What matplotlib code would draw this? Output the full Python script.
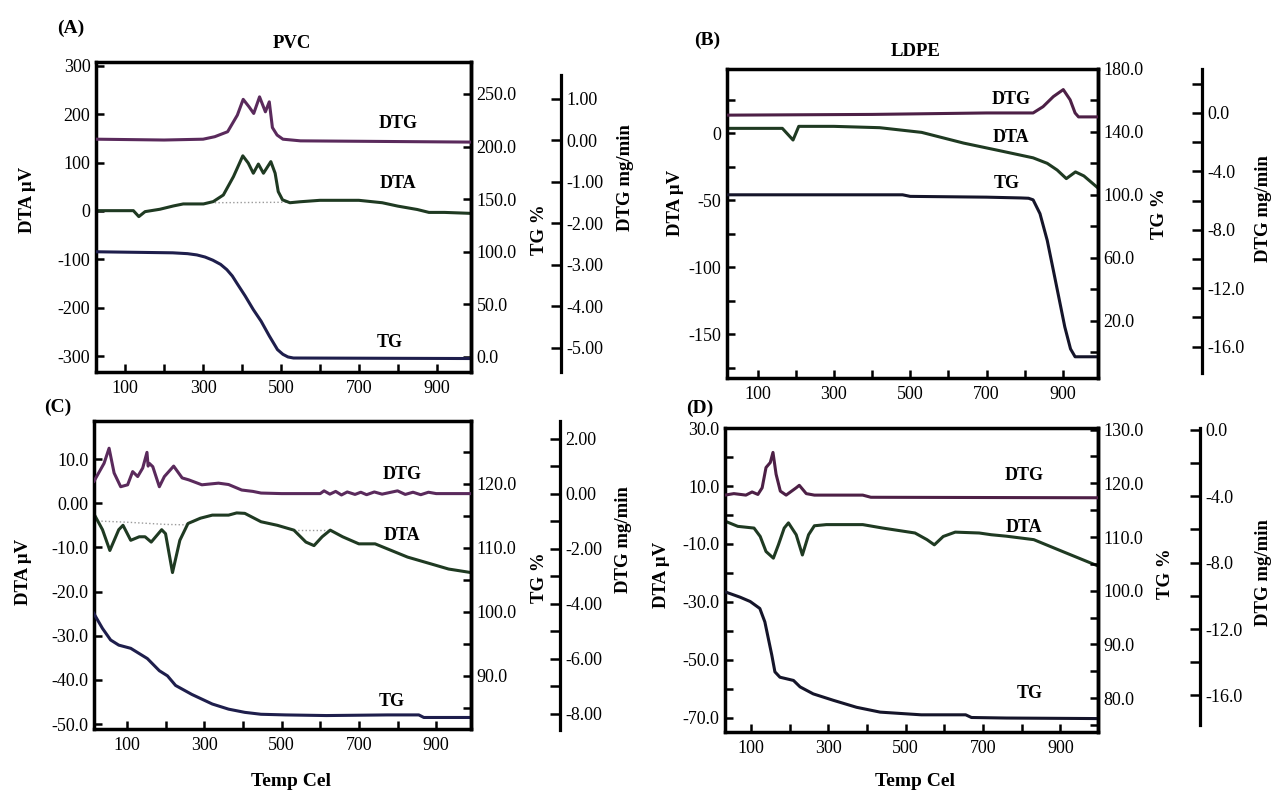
import matplotlib
matplotlib.use("Agg")
import matplotlib.pyplot as plt

plt.rcParams['font.family'] = ['Liberation Serif', 'DejaVu Serif']

W, H = 1274, 792

# ---------------- data ----------------
# Panel A : PVC
A_T_dtg = [25, 200, 300, 330, 363, 388, 403, 418, 430, 445, 460, 470, 478, 490, 505, 550, 988]
A_dtg = [0.02, 0.0, 0.02, 0.08, 0.2, 0.6, 0.98, 0.8, 0.64, 1.04, 0.68, 0.92, 0.3, 0.12, 0.02, -0.02, -0.05]
A_T_dta = [25, 121, 135, 151, 189, 224, 249, 301, 326, 352, 378, 402, 416, 429, 442, 455, 474,
           485, 493, 504, 523, 549, 600, 700, 760, 800, 850, 880, 920, 988]
A_dta = [0.6, 0.6, -11.7, -1.4, 3.5, 10.4, 14.5, 14.5, 19.3, 33, 71, 114, 99, 78, 97, 78, 102,
         78, 40, 23, 17, 19, 22, 22, 17, 10, 3, -3, -3, -5]
A_T_base = [330, 520]
A_base = [17, 18]
A_T_tg = [25, 222, 260, 284, 305, 325, 345, 361, 375, 387, 408, 429, 449, 470, 491, 505, 518, 532, 988]
A_tg = [100, 99, 98.2, 97, 95, 92, 88, 83, 77, 70, 58, 45, 34, 20, 7, 2.5, 0, -1, -1.5]

# Panel B : LDPE
B_T_dtg = [19, 400, 700, 822, 848, 875, 901, 919, 932, 941, 992]
B_dtg = [-0.15, -0.1, 0.0, 0.0, 0.43, 1.12, 1.6, 0.9, 0.0, -0.27, -0.27]
B_T_dta = [19, 165, 193, 208, 300, 420, 530, 640, 740, 822, 859, 885, 909, 933, 955, 992]
B_dta = [3.5, 3.5, -5.2, 5.0, 5.0, 4.0, 0.5, -7.5, -13.5, -18.5, -22.6, -27.6, -34, -29, -32, -41]
B_T_tg = [19, 480, 500, 700, 790, 810, 822, 840, 859, 875, 890, 905, 920, 932, 992]
B_tg = [100, 100, 99, 98.5, 98, 97.8, 96.8, 88, 71, 52, 34, 16, 2, -3, -3]

# Panel C
C_T_dtg = [15, 41, 54, 67, 84, 102, 115, 128, 141, 152, 155, 158, 167, 184, 197, 221, 243, 260,
           294, 337, 363, 380, 397, 426, 447, 500, 600, 610, 625, 640, 655, 670, 690, 705, 720,
           740, 760, 780, 800, 820, 840, 860, 880, 900, 990]
C_dtg = [0.45, 1.1, 1.65, 0.75, 0.25, 0.32, 0.8, 0.62, 0.93, 1.5, 1.0, 1.1, 0.98, 0.25, 0.62,
         1.0, 0.57, 0.5, 0.32, 0.38, 0.33, 0.23, 0.13, 0.08, 0.02, 0.0, 0.0, 0.1, -0.02, 0.08,
         -0.05, 0.06, -0.03, 0.05, -0.04, 0.06, -0.02, 0.04, 0.1, -0.03, 0.05, -0.04, 0.05, 0.0, 0.0]
C_T_dta = [14, 37, 56, 79, 90, 110, 132, 147, 163, 190, 200, 218, 237, 258, 290, 321, 363, 384,
           405, 447, 489, 532, 563, 584, 605, 626, 658, 700, 742, 784, 826, 889, 932, 990]
C_dta = [-2.3, -6, -10.7, -6, -5, -8.4, -7.6, -7.6, -8.8, -6, -6.9, -15.7, -8.4, -4.6, -3.4,
         -2.7, -2.7, -2.2, -2.3, -4.2, -5, -6.1, -8.8, -9.6, -7.6, -6.1, -7.6, -9.2, -9.2,
         -10.7, -12.2, -13.8, -14.9, -15.7]
C_T_base1 = [15, 100, 200, 250, 290]
C_base1 = [-4.0, -4.3, -4.8, -4.9, -3.6]
C_T_base2 = [532, 626]
C_base2 = [-6.1, -6.1]
C_T_tg = [14, 37, 58, 79, 110, 153, 184, 205, 226, 268, 321, 363, 405, 447, 510, 616, 774, 855, 868, 990]
C_tg = [99.8, 97.4, 95.6, 94.8, 94.3, 92.7, 90.8, 90.0, 88.5, 87.1, 85.6, 84.8, 84.3, 84.0,
        83.9, 83.8, 83.9, 83.9, 83.5, 83.5]

# Panel D
D_T_dtg = [33, 56, 87, 103, 118, 129, 139, 150, 157, 165, 176, 191, 217, 225, 243, 264, 389, 410, 997]
D_dtg = [-3.94, -3.85, -3.94, -3.75, -3.9, -3.5, -2.28, -1.98, -1.37, -2.68, -3.7, -3.94, -3.5,
         -3.35, -3.85, -3.94, -3.94, -4.07, -4.1]
D_T_dta = [33, 66, 108, 124, 139, 158, 171, 186, 197, 217, 233, 249, 264, 295, 389, 441, 524,
           555, 574, 597, 628, 690, 721, 760, 831, 900, 997]
D_dta = [-2.1, -3.9, -4.5, -7.4, -12.6, -14.9, -10.3, -4.5, -2.7, -6.8, -13.8, -6.8, -3.7, -3.3,
         -3.3, -4.5, -6.2, -8.5, -10.3, -7.4, -5.9, -6.2, -6.8, -7.3, -8.5, -12.3, -17.6]
D_T_tg = [33, 72, 98, 123, 136, 145, 154, 162, 175, 210, 227, 261, 313, 373, 434, 540, 655, 670, 760, 997]
D_tg = [99.8, 98.8, 98.0, 96.7, 94.2, 91.1, 88.0, 84.9, 83.9, 83.3, 82.1, 80.8, 79.6, 78.3,
        77.4, 76.9, 76.9, 76.4, 76.3, 76.2]

# tick values / labels
X_TICKS = [100, 200, 300, 400, 500, 600, 700, 800, 900]
X_LABELS = ['100', '', '300', '', '500', '', '700', '', '900']

A_DTA_TICKS = [-300, -200, -100, 0, 100, 200, 300]
A_DTA_LABELS = ['-300', '-200', '-100', '0', '100', '200', '300']
A_TG_TICKS = [0, 50, 100, 150, 200, 250]
A_TG_LABELS = ['0.0', '50.0', '100.0', '150.0', '200.0', '250.0']
A_DTG_TICKS = [-5, -4, -3, -2, -1, 0, 1]
A_DTG_LABELS = ['-5.00', '-4.00', '-3.00', '-2.00', '-1.00', '0.00', '1.00']

B_DTA_TICKS = [-175, -150, -125, -100, -75, -50, -25, 0, 25]
B_DTA_LABELS = ['', '-150', '', '-100', '', '-50', '', '0', '']
B_TG_TICKS = [0, 20, 40, 60, 80, 100, 120, 140, 160, 180]
B_TG_LABELS = ['', '20.0', '', '60.0', '', '100.0', '', '140.0', '', '180.0']
B_DTG_TICKS = [-16, -14, -12, -10, -8, -6, -4, -2, 0, 2]
B_DTG_LABELS = ['-16.0', '', '-12.0', '', '-8.0', '', '-4.0', '', '0.0', '']

C_DTA_TICKS = [-50, -40, -30, -20, -10, 0, 10]
C_DTA_LABELS = ['-50.0', '-40.0', '-30.0', '-20.0', '-10.0', '0.00', '10.0']
C_TG_TICKS = [85, 90, 95, 100, 105, 110, 115, 120, 125]
C_TG_LABELS = ['', '90.0', '', '100.0', '', '110.0', '', '120.0', '']
C_DTG_TICKS = [-8, -7, -6, -5, -4, -3, -2, -1, 0, 1, 2]
C_DTG_LABELS = ['-8.00', '', '-6.00', '', '-4.00', '', '-2.00', '', '0.00', '', '2.00']

D_DTA_TICKS = [-70, -60, -50, -40, -30, -20, -10, 0, 10, 20, 30]
D_DTA_LABELS = ['-70.0', '', '-50.0', '', '-30.0', '', '-10.0', '', '10.0', '', '30.0']
D_TG_TICKS = [75, 80, 85, 90, 95, 100, 105, 110, 115, 120, 125, 130]
D_TG_LABELS = ['', '80.0', '', '90.0', '', '100.0', '', '110.0', '', '120.0', '', '130.0']
D_DTG_TICKS = [-16, -14, -12, -10, -8, -6, -4, -2, 0]
D_DTG_LABELS = ['-16.0', '', '-12.0', '', '-8.0', '', '-4.0', '', '0.0']

# ---------------- styling ----------------
C_DTG = '#5a2a5c'
C_DTA = '#1f3a22'
C_TG = '#1e1e4c'
C_BASE = '#9a9a9a'
TICK_FS = 13
LAB_FS = 13.5
SPINE_LW = 2.5
CURVE_LW = 2.2

fig = plt.figure(figsize=(W / 100, H / 100), dpi=100)


def rect(l, t, r, b):
    return [l / W, 1 - b / H, (r - l) / W, (b - t) / H]


def ftext(x, y, s, **kw):
    fig.text(x / W, 1 - y / H, s, ha='center', va='center', **kw)


def panel(box, xlim, dta_lim, tg_lim, dtg_lim, dtg_x, dtg_bounds,
          dta_t, dta_l, tg_t, tg_l, dtg_t, dtg_l):
    l, t, r, b = box
    ax = fig.add_axes(rect(l, t, r, b))
    ax.set_xlim(*xlim)
    ax.set_ylim(*dta_lim)
    for s in ax.spines.values():
        s.set_linewidth(SPINE_LW)
    ax.set_xticks(X_TICKS)
    ax.set_xticklabels(X_LABELS)
    ax.set_yticks(dta_t)
    ax.set_yticklabels(dta_l)
    ax.tick_params(direction='in', length=6, width=1.8, labelsize=TICK_FS, top=False, right=False)
    ax.tick_params(axis='x', pad=6)
    ax.tick_params(axis='y', pad=4)

    atg = ax.twinx()
    atg.set_ylim(*tg_lim)
    for k in ('left', 'top', 'bottom'):
        atg.spines[k].set_visible(False)
    atg.spines['right'].set_linewidth(SPINE_LW)
    atg.set_yticks(tg_t)
    atg.set_yticklabels(tg_l)
    atg.tick_params(axis='y', direction='in', length=6, width=1.8, labelsize=TICK_FS, pad=4)

    adtg = ax.twinx()
    adtg.set_ylim(*dtg_lim)
    for k in ('left', 'top', 'bottom'):
        adtg.spines[k].set_visible(False)
    adtg.spines['right'].set_position(('axes', (dtg_x - l) / (r - l)))
    adtg.spines['right'].set_linewidth(2.3)
    adtg.spines['right'].set_bounds(*dtg_bounds)
    adtg.set_yticks(dtg_t)
    adtg.set_yticklabels(dtg_l)
    adtg.tick_params(axis='y', direction='in', length=7, width=1.8, labelsize=TICK_FS, pad=4)
    return ax, atg, adtg


# ---------- Panel A ----------
ax, atg, adtg = panel((96, 62, 471, 372), (25, 988), (-333, 308), (-14.3, 280.4), (-5.59, 1.88),
                      561, (-5.59, 1.57), A_DTA_TICKS, A_DTA_LABELS, A_TG_TICKS, A_TG_LABELS,
                      A_DTG_TICKS, A_DTG_LABELS)
ax.plot(A_T_base, A_base, color=C_BASE, lw=1.0, ls=':')
ax.plot(A_T_dta, A_dta, color=C_DTA, lw=CURVE_LW)
atg.plot(A_T_tg, A_tg, color=C_TG, lw=CURVE_LW)
adtg.plot(A_T_dtg, A_dtg, color=C_DTG, lw=CURVE_LW)

# ---------- Panel B ----------
ax, atg, adtg = panel((727, 69, 1098, 378), (20, 992), (-182.8, 47.8), (-16.5, 180), (-18.15, 3.01),
                      1202, (-17.8, 3.01), B_DTA_TICKS, B_DTA_LABELS, B_TG_TICKS, B_TG_LABELS,
                      B_DTG_TICKS, B_DTG_LABELS)
ax.plot(B_T_dta, B_dta, color=C_DTA, lw=CURVE_LW)
atg.plot(B_T_tg, B_tg, color='#15152a', lw=CURVE_LW)
adtg.plot(B_T_dtg, B_dtg, color='#4d2046', lw=CURVE_LW)

# ---------- Panel C ----------
ax, atg, adtg = panel((94, 421, 471, 729), (15, 990), (-51.1, 18.6), (81.7, 129.8), (-8.56, 2.64),
                      560, (-8.6, 2.64), C_DTA_TICKS, C_DTA_LABELS, C_TG_TICKS, C_TG_LABELS,
                      C_DTG_TICKS, C_DTG_LABELS)
ax.plot(C_T_base1, C_base1, color=C_BASE, lw=1.0, ls=':')
ax.plot(C_T_base2, C_base2, color=C_BASE, lw=1.0, ls=':')
ax.plot(C_T_dta, C_dta, color=C_DTA, lw=CURVE_LW)
atg.plot(C_T_tg, C_tg, color=C_TG, lw=CURVE_LW)
adtg.plot(C_T_dtg, C_dtg, color=C_DTG, lw=CURVE_LW)

# ---------- Panel D ----------
ax, atg, adtg = panel((725, 428, 1098, 732), (33, 997), (-75, 30.1), (73.7, 130.3), (-18.2, 0.1),
                      1200, (-17.8, 0.1), D_DTA_TICKS, D_DTA_LABELS, D_TG_TICKS, D_TG_LABELS,
                      D_DTG_TICKS, D_DTG_LABELS)
ax.plot(D_T_dta, D_dta, color=C_DTA, lw=CURVE_LW)
atg.plot(D_T_tg, D_tg, color='#15152a', lw=CURVE_LW)
adtg.plot(D_T_dtg, D_dtg, color='#4d2046', lw=CURVE_LW)

# ---------- texts ----------
bold = dict(fontweight='bold')
for (x, y, s) in [(71, 28, '(A)'), (707, 40, '(B)'), (58, 407, '(C)'), (700, 408, '(D)')]:
    ftext(x, y, s, fontsize=14, **bold)
ftext(292, 43, 'PVC', fontsize=13.5, **bold)
ftext(916, 51, 'LDPE', fontsize=13.5, **bold)

for (x, y, s) in [(398, 124, 'DTG'), (398, 184, 'DTA'), (390, 342, 'TG'),
                  (1011, 99, 'DTG'), (1011, 137, 'DTA'), (1007, 183, 'TG'),
                  (402, 475, 'DTG'), (402, 535, 'DTA'), (392, 701, 'TG'),
                  (1024, 476, 'DTG'), (1024, 527, 'DTA'), (1030, 693, 'TG')]:
    ftext(x, y, s, fontsize=13, **bold)

for (x, y) in [(27, 200), (676, 203), (24, 572), (661, 575)]:
    ftext(x, y, 'DTA μV', fontsize=LAB_FS, rotation=90, **bold)
for (x, y) in [(540, 230), (1160, 214), (540, 578), (1165, 574)]:
    ftext(x, y, 'TG %', fontsize=LAB_FS, rotation=90, **bold)
for (x, y) in [(625, 178), (1263, 209), (624, 540), (1263, 573)]:
    ftext(x, y, 'DTG mg/min', fontsize=LAB_FS, rotation=90, **bold)

ftext(291, 782, 'Temp Cel', fontsize=14, **bold)
ftext(915, 782, 'Temp Cel', fontsize=14, **bold)

fig.savefig('out.png', dpi=100)
